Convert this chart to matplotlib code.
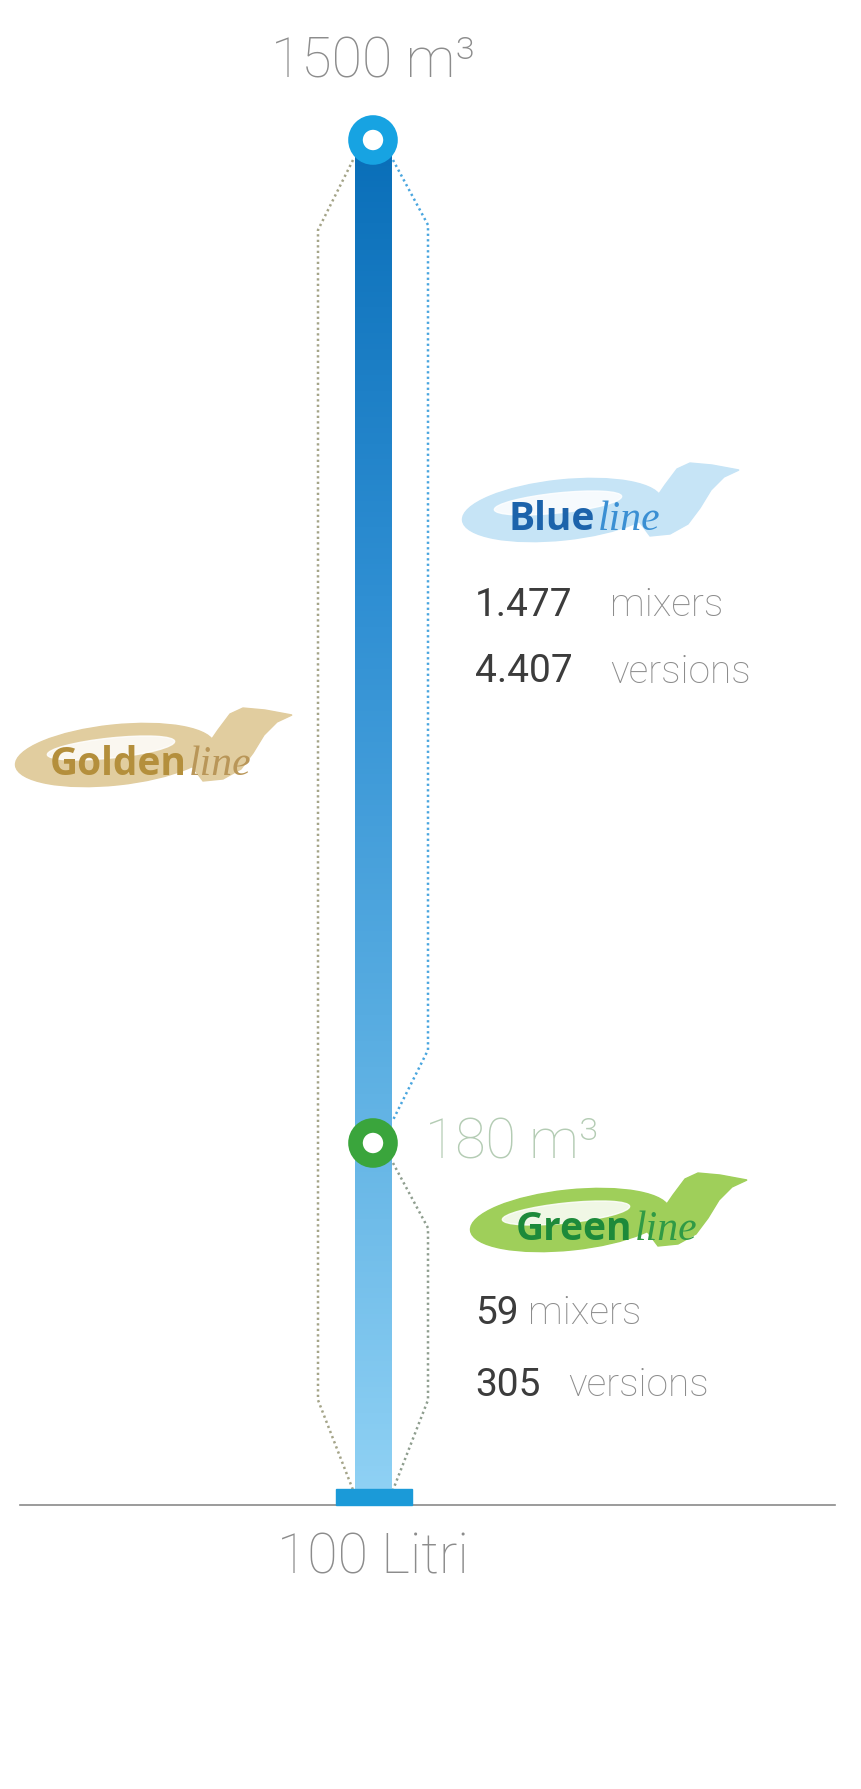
import matplotlib.pyplot as plt
import numpy as np
from matplotlib.colors import LinearSegmentedColormap
from matplotlib.patches import Circle, Ellipse, Polygon, Rectangle

# capacity markers along the bar (label, y position in px)
capacity_labels = ['1500 m³', '180 m³', '100 Litri']
capacity_y = [140, 1143, 1497]

# product line ranges (from capacity, to capacity)
line_names = ['Blue', 'Golden', 'Green']
line_from = ['180 m³', '100 Litri', '100 Litri']
line_to = ['1500 m³', '1500 m³', '180 m³']

# stats shown next to the logos
stat_lines = ['Blue', 'Green']
mixer_counts = ['1.477', '59']
version_counts = ['4.407', '305']

LIGHT = ['Roboto', 'DejaVu Sans']
BAR_X, BAR_W = 373, 37

fig = plt.figure(figsize=(8.61, 17.89), dpi=100)
ax = fig.add_axes([0, 0, 1, 1])
ax.set_xlim(0, 861)
ax.set_ylim(1789, 0)
ax.axis('off')

ypos = dict(zip(capacity_labels, capacity_y))

# baseline and foot
ax.plot([20, 835], [1505, 1505], color='#8a8a8a', lw=1.2, zorder=1)
ax.add_patch(Rectangle((336, 1489), 76, 16, color='#1b9ad8', zorder=4))

# gradient bar
cmap = LinearSegmentedColormap.from_list('bar', ['#0a6fb9', '#2f8fd3', '#5aaee2', '#8fd1f4'])
grad = np.linspace(0, 1, 256).reshape(-1, 1)
ax.imshow(grad, cmap=cmap, aspect='auto', zorder=3,
          extent=[BAR_X - BAR_W / 2, BAR_X + BAR_W / 2, 1492, 150])

# rings
for lab, col in [('1500 m³', '#17a3e2'), ('180 m³', '#3aa53c')]:
    ax.add_patch(Circle((BAR_X, ypos[lab]), 17.5, facecolor='white', edgecolor=col,
                        lw=10.5, zorder=5))

# capacity labels
ax.text(BAR_X, 62, '1500 m³', ha='center', va='center', fontsize=40,
        color='#8c8c8c', family=LIGHT, weight='light')
ax.text(425, 1143, '180 m³', ha='left', va='center', fontsize=40,
        color='#b4ccb4', family=LIGHT, weight='light')
ax.text(BAR_X, 1558, '100 Litri', ha='center', va='center', fontsize=40,
        color='#8c8c8c', family=LIGHT, weight='light')


# dotted range brackets
def bracket(y0, y1, side, color, taper0, taper1):
    edge = BAR_X + side * 20
    out = BAR_X + side * 55
    xs = [edge, out, out, edge]
    ys = [y0, y0 + taper0, y1 - taper1, y1]
    ax.plot(xs, ys, color=color, lw=1.8, dashes=(0.9, 1.3), zorder=2)


bracket_style = {
    'Blue': (1, '#4aa6df', 65, 70),
    'Golden': (-1, '#a4a488', 70, 90),
    'Green': (1, '#8f9e8f', 65, 90),
}
for name, a, b in zip(line_names, line_from, line_to):
    side, col, t0, t1 = bracket_style[name]
    y0 = ypos[b] + 20
    y1 = ypos[a] - 23 if a != '100 Litri' else 1490
    bracket(y0, y1, side, col, t0, t1)

# logos
logo_style = {
    'Blue': ((562, 510), 509, '#c6e4f6', '#1c63ab', '#3a8fd3'),
    'Golden': ((115, 755), 50, '#e1cd9f', '#b48f3c', '#b99658'),
    'Green': ((570, 1220), 516, '#9fcf5a', '#1d8a3a', '#2f9a45'),
}
arrow = np.array([(76, 10), (90, -6), (103, -25), (115, -41), (128, -47), (150, -45),
                  (177, -40), (162, -33), (149, -20), (138, -2), (126, 14),
                  (108, 24), (88, 26)])
fig.canvas.draw()
renderer = fig.canvas.get_renderer()
inv = ax.transData.inverted()
for name in line_names:
    (cx, cy), tx, light, dark, mid = logo_style[name]
    ax.add_patch(Ellipse((cx, cy), 200, 60, angle=-6, color=light, zorder=2))
    ax.add_patch(Polygon(arrow + [cx, cy], closed=True, color=light, zorder=2))
    ax.add_patch(Ellipse((cx - 4, cy - 7), 128, 20, angle=-6, color='white',
                         alpha=0.85, zorder=2))
    t = ax.text(tx, cy + 20, name, ha='left', va='baseline', fontsize=28,
                color=dark, family=['Open Sans', 'DejaVu Sans'], weight='bold', zorder=6)
    bb = t.get_window_extent(renderer)
    x_end = inv.transform((bb.x1, bb.y0))[0]
    ax.text(x_end + 2, cy + 20, 'line', ha='left', va='baseline', fontsize=30,
            color=mid, family=['Liberation Serif', 'DejaVu Serif'], style='italic', zorder=6)

# stats
stat_y = {'Blue': (605, 672), 'Green': (1313, 1385)}
word_x = {'Blue': (610, 610), 'Green': (528, 568)}
for name, m, v in zip(stat_lines, mixer_counts, version_counts):
    (ym, yv), (xm, xv) = stat_y[name], word_x[name]
    for y, num, word, xw in [(ym, m, 'mixers', xm), (yv, v, 'versions', xv)]:
        ax.text(475, y, num, ha='left', va='center', fontsize=28, color='#3c3c3c',
                family=LIGHT)
        ax.text(xw, y, word, ha='left', va='center', fontsize=28, color='#8c8c8c',
                family=LIGHT, weight='light')

fig.savefig('out.png', dpi=100)
